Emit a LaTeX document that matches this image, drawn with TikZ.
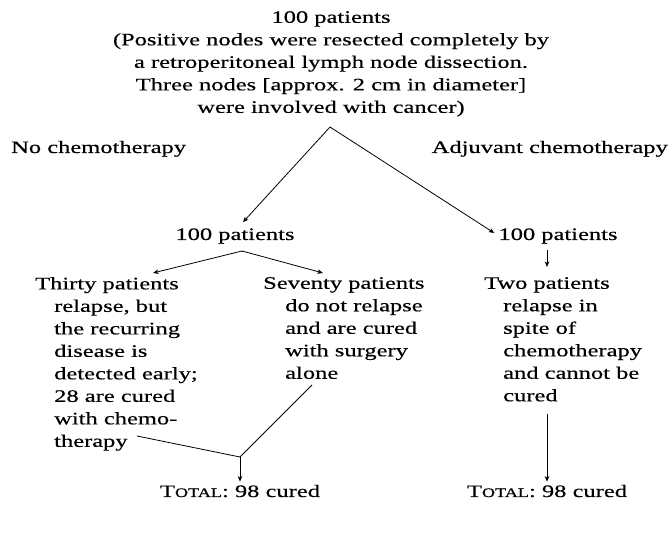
\documentclass[tikz,border=0pt]{standalone}
\usepackage{fontspec}
\setmainfont[FakeStretch=1.4,FakeBold=0.4]{Liberation Serif}
\usetikzlibrary{arrows.meta}
\newcommand{\ind}{\hspace*{19pt}}
\newcommand{\smcp}[1]{{\fontsize{13}{13}\selectfont #1}}
\begin{document}
\begin{tikzpicture}[x=1pt,y=1pt,
  txt/.style={inner sep=0pt, font=\fontsize{17.5}{22.5}\selectfont},
  blk/.style={txt, align=left, anchor=north west},
  link/.style={line width=0.8pt},
  arr/.style={link, -{Stealth[length=5.5pt,width=4.5pt,inset=1.5pt]}}]
\useasboundingbox[fill=white] (0,0) rectangle (671,532);
% title
\node[txt, align=center, anchor=north] (title) at (331,521)
  {100 patients\\(Positive nodes were resected completely by\\a retroperitoneal lymph node dissection.\\Three nodes [approx. 2 cm in diameter]\\were involved with cancer)};
\coordinate (apex) at (330,405);
\node[txt, anchor=base west] (nochemo) at (11,379) {No chemotherapy};
\node[txt, anchor=base east] (adjchemo) at (668,379) {Adjuvant chemotherapy};
\node[txt, anchor=base] (L100) at (235,292) {100 patients};
\node[txt, anchor=base] (R100) at (558,292) {100 patients};
\draw[arr] (apex) -- ([xshift=8pt,yshift=6pt]L100.north);
\draw[arr] (apex) -- ([xshift=-4pt,yshift=3pt]R100.west);
% blocks
\node[blk] (thirty) at (35,255) {Thirty patients\\\ind relapse, but\\\ind the recurring\\\ind disease is\\\ind detected early;\\\ind 28 are cured\\\ind with chemo-\\\ind therapy};
\node[blk] (seventy) at (263,255) {Seventy patients\\\hspace*{22pt}do not relapse\\\hspace*{22pt}and are cured\\\hspace*{22pt}with surgery\\\hspace*{22pt}alone};
\node[blk] (two) at (484,255) {Two patients\\\ind relapse in\\\ind spite of\\\ind chemotherapy\\\ind and cannot be\\\ind cured};
\coordinate (Lsplit) at (242,281);
\draw[link] ([xshift=7pt,yshift=-8pt]L100.south) -- (Lsplit);
\draw[arr] (Lsplit) -- ([xshift=118pt,yshift=4pt]thirty.north west);
\draw[arr] (Lsplit) -- ([xshift=60pt,yshift=4pt]seventy.north west);
% totals
\node[txt, anchor=base] (totL) at (240,35) {T\smcp{OTAL}: 98 cured};
\node[txt, anchor=base] (totR) at (547,35) {T\smcp{OTAL}: 98 cured};
\draw[arr] ([yshift=-6pt]R100.south -| totR.north) -- ([yshift=10pt]two.north -| totR.north);
\coordinate (conv) at (240,75);
\coordinate (thend) at (137,96);
\coordinate (alend) at (312,147);
\draw[link] (thend) -- (conv);
\draw[link] (alend) -- (conv);
\draw[arr] (conv) -- ([yshift=3pt]totL.north);
\draw[arr] ([yshift=-12pt]two.south -| totR.north) -- ([yshift=3pt]totR.north);
\end{tikzpicture}
\end{document}
